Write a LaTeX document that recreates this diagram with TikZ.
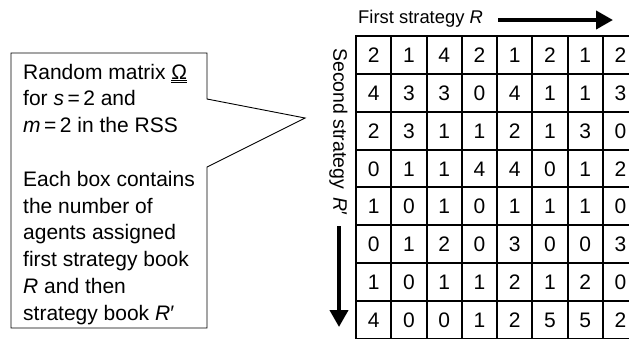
\documentclass[tikz,border=0pt]{standalone}
\usepackage{fontspec}
\setmainfont{Liberation Sans}
\usetikzlibrary{matrix,arrows.meta}
\begin{document}
\begin{tikzpicture}[x=1pt, y=-1pt, every node/.style={font=\fontsize{21}{26.8}\selectfont}]
\useasboundingbox (0,0) rectangle (629,338);
\clip (0,0) rectangle (629,338);
\tikzset{numcell/.style={minimum width=35.25pt, minimum height=37.86pt, inner sep=0pt, outer sep=0pt}}
\tikzset{gridline/.style={line width=2pt}}
\tikzset{bigarrow/.style={-{Triangle[width=18pt,length=17pt]}, line width=4pt}}

\node[anchor=north west, align=left, inner sep=0pt] (note) at (23,63.7) {Random matrix \underline{\underline{Ω}}\\ for \textit{s}\,=\,2 and\\ \textit{m}\,=\,2 in the RSS\\[26.8pt] Each box contains\\ the number of\\ agents assigned\\ first strategy book\\ \textit{R} and then\\ strategy book \textit{R}′};
\coordinate (tip) at (305,118);
\draw[line width=0.9pt] (11,53) -- (207,53) -- (207,99) -- (tip) -- (207,167) -- (207,328) -- (11,328) -- cycle;

\node[anchor=base west, inner sep=0pt, font=\fontsize{18.4}{22}\selectfont] (first) at (358,23) {First strategy \textit{R}};
\node[rotate=-90, anchor=west, inner sep=0pt, font=\fontsize{19.5}{22}\selectfont] (second) at (338.5,48) {Second strategy \hspace{3pt}\textit{R}′};

\coordinate (r0) at (498,20);
\coordinate (r1) at (613,20);
\coordinate (d0) at (339,226);
\coordinate (d1) at (339,327);
\draw[bigarrow] (r0) -- (r1);
\draw[bigarrow] (d0) -- (d1);

\foreach \k in {0,...,8} {
  \draw[gridline] (356,{36+\k*37.86}) -- (640,{36+\k*37.86});
  \draw[gridline] ({356+\k*35.25},35) -- ({356+\k*35.25},340);
}

\matrix (omega) [matrix of nodes, nodes={numcell}, column sep=0pt, row sep=0pt, inner sep=0pt, outer sep=0pt, anchor=north west] at (356,36) {
2 & 1 & 4 & 2 & 1 & 2 & 1 & 2 \\
4 & 3 & 3 & 0 & 4 & 1 & 1 & 3 \\
2 & 3 & 1 & 1 & 2 & 1 & 3 & 0 \\
0 & 1 & 1 & 4 & 4 & 0 & 1 & 2 \\
1 & 0 & 1 & 0 & 1 & 1 & 1 & 0 \\
0 & 1 & 2 & 0 & 3 & 0 & 0 & 3 \\
1 & 0 & 1 & 1 & 2 & 1 & 2 & 0 \\
4 & 0 & 0 & 1 & 2 & 5 & 5 & 2 \\
};
\end{tikzpicture}
\end{document}
